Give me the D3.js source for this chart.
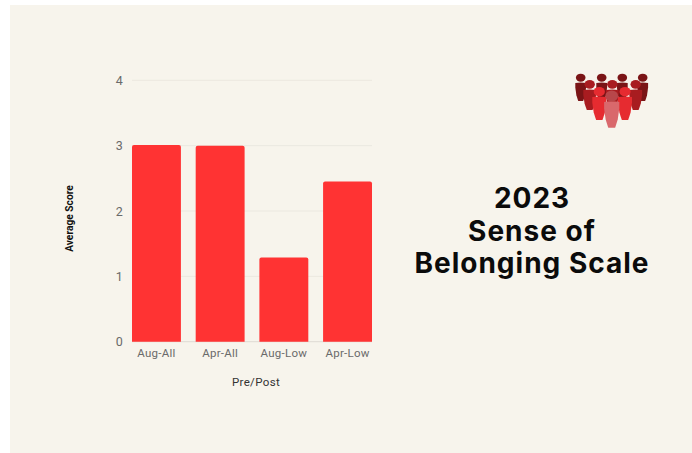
<!DOCTYPE html>
<html>
<head>
<meta charset="utf-8">
<script src="https://cdn.jsdelivr.net/npm/d3@7"></script>
<style>
  html, body { margin: 0; padding: 0; background: #ffffff; }
  svg { display: block; }
  text { font-family: Roboto, "Liberation Sans", sans-serif; }
</style>
</head>
<body>
<svg id="chart" width="692" height="453"></svg>
<script>
// Survey results
const categories = ["Aug-All", "Apr-All", "Aug-Low", "Apr-Low"];
const averageScores = [3.01, 3.0, 1.29, 2.45];
const scoreTicks = [0, 1, 2, 3, 4];
const titleLines = ["2023", "Sense of", "Belonging Scale"];

const svg = d3.select("#chart");

svg.append("rect")
  .attr("x", 10).attr("y", 5)
  .attr("width", 682).attr("height", 448)
  .attr("fill", "#f7f4ec");

const x = d3.scaleBand()
  .domain(categories)
  .range([132, 372])
  .paddingInner(0.232)
  .paddingOuter(0);

const y = d3.scaleLinear()
  .domain([0, 4])
  .range([341.7, 80.3]);

// Horizontal gridlines
svg.append("g")
  .selectAll("line")
  .data(scoreTicks)
  .join("line")
  .attr("x1", 132).attr("x2", 372)
  .attr("y1", d => y(d)).attr("y2", d => y(d))
  .attr("stroke", d => d === 0 ? "#dedbd3" : "#ebe8e0")
  .attr("stroke-width", 1);

// Bars with slightly rounded top corners
const barRadius = 2;
svg.append("g")
  .selectAll("path")
  .data(categories)
  .join("path")
  .attr("fill", "#ff3333")
  .attr("d", (c, i) => {
    const left = x(c), right = left + x.bandwidth();
    const top = y(averageScores[i]), base = y(0);
    return `M${left},${base}V${top + barRadius}Q${left},${top} ${left + barRadius},${top}` +
           `H${right - barRadius}Q${right},${top} ${right},${top + barRadius}V${base}Z`;
  });

// Value axis labels
svg.append("g")
  .selectAll("text")
  .data(scoreTicks)
  .join("text")
  .attr("x", 123)
  .attr("y", d => y(d))
  .attr("dy", "0.36em")
  .attr("text-anchor", "end")
  .attr("font-size", 12.5)
  .attr("letter-spacing", 0.3)
  .attr("fill", "#6a6a6a")
  .text(d => d);

// Category labels
svg.append("g")
  .selectAll("text")
  .data(categories)
  .join("text")
  .attr("x", c => x(c) + x.bandwidth() / 2)
  .attr("y", 353)
  .attr("dy", "0.36em")
  .attr("text-anchor", "middle")
  .attr("font-size", 11.5)
  .attr("letter-spacing", 0.25)
  .attr("fill", "#6a6a6a")
  .text(c => c);

// Axis titles
svg.append("text")
  .attr("x", 256).attr("y", 381.5)
  .attr("dy", "0.36em")
  .attr("text-anchor", "middle")
  .attr("font-size", 11.5)
  .attr("font-weight", 400)
  .attr("letter-spacing", 0.35)
  .attr("fill", "#333333")
  .text("Pre/Post");

svg.append("text")
  .attr("transform", "translate(69,218.5) rotate(-90) scale(0.93,1.05)")
  .attr("dy", "0.36em")
  .attr("text-anchor", "middle")
  .attr("font-size", 11)
  .attr("font-weight", 700)
  .attr("fill", "#111111")
  .text("Average Score");

// Title block
svg.append("g")
  .selectAll("text")
  .data(titleLines)
  .join("text")
  .attr("x", 532)
  .attr("y", (d, i) => 207.7 + i * 32.8)
  .attr("text-anchor", "middle")
  .style("font-family", "Inter, Roboto, sans-serif")
  .attr("font-size", 28)
  .attr("font-weight", 700)
  .attr("letter-spacing", 1)
  .attr("fill", "#0b0b0b")
  .text(d => d);

// Group-of-people emblem, painted back row to front
const personBody = "M-1,-1 Q0,-1.1 1,-1 Q1,-1 1,-0.5 L0.8,0.35 Q0.6,0.75 0.45,1 L-0.45,1 Q-0.6,0.75 -0.8,0.35 L-1,-0.5 Q-1,-1 -1,-1Z";
const people = [
  { cx: 580.7, head: 77.7, r: 4.4, top: 83, bottom: 101, w: 5.4, body: "#7a1416", headFill: "#7a1416" },
  { cx: 601.7, head: 77.7, r: 4.4, top: 83, bottom: 101, w: 5.4, body: "#7a1416", headFill: "#7a1416" },
  { cx: 622.3, head: 77.7, r: 4.4, top: 83, bottom: 101, w: 5.4, body: "#7a1416", headFill: "#7a1416" },
  { cx: 642.7, head: 77.7, r: 4.4, top: 83, bottom: 101, w: 5.4, body: "#7a1416", headFill: "#7a1416" },
  { cx: 589.7, head: 84.3, r: 4.8, top: 90, bottom: 110, w: 6.4, body: "#a81c20", headFill: "#a81c20" },
  { cx: 612.3, head: 84.3, r: 4.8, top: 90, bottom: 110, w: 6.4, body: "#a81c20", headFill: "#a81c20" },
  { cx: 635.7, head: 84.3, r: 4.8, top: 90, bottom: 110, w: 6.4, body: "#a81c20", headFill: "#a81c20" },
  { cx: 599.3, head: 91.7, r: 5.2, top: 97, bottom: 120, w: 7, body: "#e62b30", headFill: "#e62b30" },
  { cx: 625, head: 91.7, r: 5.2, top: 97, bottom: 120, w: 7, body: "#e62b30", headFill: "#e62b30" },
  { cx: 611.7, head: 96, r: 6, top: 102, bottom: 127.7, w: 7.6, body: "#d9686c", headFill: "#b8474a" }
];
const emblem = svg.append("g");
people.forEach(p => {
  const midY = (p.top + p.bottom) / 2, halfH = (p.bottom - p.top) / 2;
  emblem.append("path")
    .attr("d", personBody)
    .attr("transform", `translate(${p.cx},${midY}) scale(${p.w},${halfH})`)
    .attr("fill", p.body);
  emblem.append("ellipse")
    .attr("cx", p.cx).attr("cy", p.head)
    .attr("rx", p.r + 0.4).attr("ry", p.r - 0.4)
    .attr("fill", p.headFill);
});
</script>
</body>
</html>
